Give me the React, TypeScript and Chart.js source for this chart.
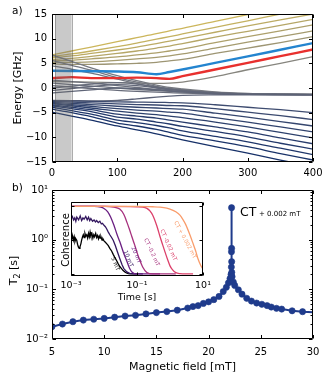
import React, { useEffect, useRef } from "react";
import { Chart, registerables } from "chart.js";

Chart.register(...registerables);

const FONT = "'DejaVu Sans', 'Liberation Sans', sans-serif";
Chart.defaults.font.family = FONT;
Chart.defaults.color = "#000";

// ---------------- Panel a: energy levels vs field ----------------
const fieldA = [0, 30, 60, 100, 130, 160, 180, 200, 250, 300, 350, 400];
const xTicksA = [0, 100, 200, 300, 400];
const yTicksA = [-15, -10, -5, 0, 5, 10, 15];
const shadedField = [5, 30];

// lower (navy) manifold, bottom -> top
const levelN10 = [-4.9, -5.7, -6.5, -7.7, -8.5, -9.3, -9.9, -10.5, -11.9, -13.2, -14.6, -15.9];
const levelN9 = [-4.3, -5.0, -5.8, -7.1, -7.7, -8.4, -9.0, -9.6, -10.7, -11.9, -13.3, -14.6];
const levelN8 = [-3.9, -4.6, -5.3, -6.5, -7.0, -7.6, -8.1, -8.7, -9.8, -10.9, -12.2, -13.5];
const levelN7 = [-3.6, -4.2, -4.8, -5.9, -6.3, -6.9, -7.3, -7.8, -8.8, -9.9, -11.2, -12.4];
const levelN6 = [-3.4, -3.9, -4.4, -5.3, -5.7, -6.1, -6.5, -6.9, -7.9, -8.9, -10.1, -11.3];
const levelN5 = [-3.2, -3.6, -4.05, -4.7, -5.1, -5.4, -5.7, -6.0, -6.9, -7.9, -9.0, -10.1];
const levelN4 = [-3.05, -3.35, -3.7, -4.2, -4.5, -4.7, -4.9, -5.1, -6.0, -6.9, -7.9, -8.9];
const levelN3 = [-2.9, -3.1, -3.35, -3.7, -3.9, -4.05, -4.2, -4.3, -5.1, -5.9, -6.8, -7.7];
const levelN2 = [-2.75, -2.85, -3.0, -3.2, -3.35, -3.45, -3.55, -3.6, -4.2, -4.9, -5.6, -6.4];
const levelN1 = [-2.6, -2.65, -2.7, -2.8, -2.85, -2.9, -2.95, -3.0, -3.4, -3.9, -4.4, -5.0];

// middle (grey) manifold
const levelM10 = [-2.5, -2.55, -2.6, -2.5, -2.2, -1.85, -1.65, -1.5, -1.4, -1.38, -1.38, -1.38];
const levelM9 = [-1.0, -0.7, -0.4, 0.0, -0.1, -0.4, -0.6, -0.8, -1.15, -1.28, -1.33, -1.36];
const levelM8 = [-0.5, -0.1, 0.3, 0.7, 0.5, 0.0, -0.35, -0.6, -1.05, -1.25, -1.31, -1.34];
const levelM7 = [0.0, 0.4, 0.8, 1.1, 0.8, 0.2, -0.2, -0.5, -1.0, -1.22, -1.3, -1.33];
const levelM6 = [0.5, 0.2, -0.1, -0.5, -0.7, -0.85, -0.95, -1.05, -1.2, -1.3, -1.34, -1.35];
const levelM5 = [1.0, 0.7, 0.4, 0.0, -0.3, -0.55, -0.7, -0.85, -1.12, -1.26, -1.32, -1.34];
const levelM4 = [1.6, 1.3, 1.0, 0.5, 0.1, -0.3, -0.5, -0.7, -1.05, -1.23, -1.3, -1.32];
const levelM3 = [4.5, 3.8, 3.0, 1.8, 0.9, 0.1, -0.3, -0.5, -1.0, -1.2, -1.28, -1.31];
const levelM2 = [5.6, 4.6, 3.6, 2.1, 1.2, 0.35, -0.1, -0.35, -0.9, -1.15, -1.25, -1.3];
const levelM1 = [6.7, 5.4, 4.1, 2.5, 1.5, 0.6, 0.1, -0.2, -0.8, -1.1, -1.22, -1.28];

// upper (gold) manifold, bottom -> top
const levelL1 = [1.3, 1.25, 1.2, 1.1, 1.0, 0.95, 1.0, 1.2, 2.3, 3.7, 5.0, 6.35];
const levelRed = [2.0, 2.2, 2.0, 2.0, 2.1, 2.0, 1.85, 2.4, 3.75, 5.1, 6.45, 7.8];
const levelBlue = [3.5, 3.45, 3.4, 3.35, 3.2, 2.8, 3.25, 3.75, 5.1, 6.4, 7.75, 9.1];
const levelL4 = [4.9, 4.8, 4.8, 4.9, 5.0, 5.2, 5.5, 5.8, 7.0, 8.1, 9.2, 10.4];
const levelL5 = [5.2, 5.2, 5.3, 5.6, 5.9, 6.2, 6.5, 6.9, 8.1, 9.3, 10.4, 11.6];
const levelL6 = [5.5, 5.6, 5.9, 6.3, 6.7, 7.1, 7.5, 7.9, 9.2, 10.4, 11.6, 12.8];
const levelL7 = [5.8, 6.0, 6.4, 7.0, 7.5, 8.1, 8.5, 9.0, 10.3, 11.5, 12.7, 13.9];
const levelL8 = [6.1, 6.5, 7.0, 7.7, 8.3, 9.0, 9.5, 10.0, 11.3, 12.6, 13.8, 15.0];
const levelL9 = [6.4, 6.9, 7.5, 8.4, 9.1, 9.9, 10.4, 10.95, 12.3, 13.6, 15.0, 16.3];
const levelL10 = [6.7, 7.5, 8.3, 9.4, 10.2, 11.0, 11.6, 12.1, 13.5, 14.9, 16.2, 17.6];

const levelsA = [
  levelN10, levelN9, levelN8, levelN7, levelN6, levelN5, levelN4, levelN3, levelN2, levelN1,
  levelM10, levelM9, levelM8, levelM7, levelM6, levelM5, levelM4, levelM3, levelM2, levelM1,
  levelL1, levelRed, levelBlue, levelL4, levelL5, levelL6, levelL7, levelL8, levelL9, levelL10,
];
const RED_INDEX = 21;
const BLUE_INDEX = 22;

// ---------------- Panel b: T2 vs magnetic field ----------------
const fieldB = [5, 6, 7, 8, 9, 10, 11, 12, 13, 14, 15, 16, 17, 18, 18.5, 19, 19.5, 20, 20.5, 21, 21.4, 21.7, 21.9, 22.05,
  22.15, 22.18, 22.19, 22.2, 22.205, 22.21, 22.22, 22.25, 22.37, 22.5, 22.85, 23.2, 23.65, 24.1, 24.6, 25.1, 25.6, 26.0,
  26.5, 27.0, 28.0, 29.0, 30.0];
const t2B = [0.0177, 0.02, 0.0223, 0.024, 0.025, 0.026, 0.0275, 0.029, 0.03, 0.032, 0.034, 0.0356, 0.038, 0.042, 0.045,
  0.047, 0.052, 0.056, 0.062, 0.072, 0.09, 0.11, 0.135, 0.165, 0.2, 0.28, 0.57, 4.4, 0.67, 0.36, 0.22, 0.18, 0.14, 0.12,
  0.098, 0.08, 0.066, 0.058, 0.053, 0.05, 0.047, 0.044, 0.0415, 0.04, 0.037, 0.0355, 0.0345];
const xTicksB = [5, 10, 15, 20, 25, 30];
const yTicksB = [0.01, 0.1, 1, 10];
const yMinorB = [0.02, 0.03, 0.04, 0.05, 0.06, 0.07, 0.08, 0.09, 0.2, 0.3, 0.4, 0.5, 0.6, 0.7, 0.8, 0.9, 2, 3, 4, 5, 6, 7, 8, 9];

// ---------------- Inset: coherence vs time ----------------
const insetXTicks = [0.001, 0.1, 10];
const insetYTicks = [0, 0.5, 1];
const coh5mT = [
  [0.001, 0.52], [0.00106, 0.6], [0.00112, 0.56], [0.00118, 0.5], [0.00125, 0.55], [0.00132, 0.48], [0.0014, 0.52],
  [0.00149, 0.5], [0.00158, 0.44], [0.00167, 0.4], [0.00177, 0.38], [0.00187, 0.4], [0.002, 0.45], [0.0021, 0.5],
  [0.00224, 0.55], [0.00236, 0.58], [0.0025, 0.54], [0.00265, 0.6], [0.0028, 0.56], [0.003, 0.58], [0.0032, 0.53],
  [0.0034, 0.6], [0.0036, 0.55], [0.0038, 0.62], [0.004, 0.57], [0.0043, 0.6], [0.0046, 0.53], [0.0049, 0.58],
  [0.0052, 0.55], [0.0056, 0.6], [0.006, 0.54], [0.0064, 0.57], [0.0068, 0.52], [0.0072, 0.56], [0.0076, 0.53],
  [0.0081, 0.55], [0.0087, 0.5], [0.0093, 0.52], [0.01, 0.49], [0.011, 0.47], [0.012, 0.45], [0.0135, 0.42],
  [0.015, 0.38], [0.017, 0.34], [0.019, 0.29], [0.021, 0.25], [0.024, 0.2], [0.027, 0.15], [0.03, 0.11],
  [0.034, 0.08], [0.038, 0.05], [0.043, 0.03], [0.048, 0.015], [0.055, 0.005], [0.061, 0], [0.08, 0], [0.1, 0],
];
const coh10mT = [
  [0.001, 0.82], [0.0011, 0.85], [0.0012, 0.8], [0.0013, 0.83], [0.0014, 0.78], [0.0015, 0.84], [0.0017, 0.8],
  [0.0019, 0.86], [0.0021, 0.79], [0.0023, 0.83], [0.0025, 0.81], [0.0028, 0.85], [0.0031, 0.8], [0.0034, 0.84],
  [0.0037, 0.79], [0.004, 0.82], [0.0045, 0.78], [0.005, 0.8], [0.0055, 0.77], [0.006, 0.79], [0.0067, 0.76],
  [0.0075, 0.78], [0.0083, 0.74], [0.009, 0.75], [0.01, 0.72], [0.011, 0.7], [0.012, 0.67], [0.0135, 0.62],
  [0.015, 0.58], [0.017, 0.54], [0.019, 0.5], [0.022, 0.42], [0.025, 0.34], [0.03, 0.23], [0.035, 0.14],
  [0.04, 0.08], [0.049, 0.03], [0.06, 0.008], [0.08, 0], [0.15, 0],
];
const coh20mT = [
  [0.001, 1], [0.005, 1], [0.008, 0.99], [0.01, 0.97], [0.013, 0.92], [0.016, 0.84], [0.02, 0.72], [0.025, 0.58],
  [0.03, 0.48], [0.04, 0.3], [0.05, 0.18], [0.06, 0.08], [0.07, 0.03], [0.1, 0], [0.2, 0], [0.5, 0],
];
const cohCTm02 = [
  [0.001, 1], [0.01, 1], [0.02, 0.99], [0.03, 0.96], [0.04, 0.88], [0.05, 0.76], [0.06, 0.65], [0.07, 0.55],
  [0.085, 0.43], [0.1, 0.32], [0.12, 0.21], [0.15, 0.1], [0.2, 0.02], [0.3, 0], [0.5, 0], [1.5, 0],
];
const cohCTm002 = [
  [0.001, 1], [0.01, 1], [0.1, 0.995], [0.15, 0.99], [0.2, 0.97], [0.25, 0.93], [0.3, 0.87], [0.4, 0.71],
  [0.5, 0.55], [0.6, 0.43], [0.7, 0.33], [0.85, 0.21], [1, 0.12], [1.2, 0.06], [1.5, 0.02], [2, 0.005], [3, 0], [5, 0],
];
const cohCTp0002 = [
  [0.001, 1], [0.01, 1], [0.1, 1], [0.3, 0.995], [0.5, 0.99], [0.8, 0.975], [1, 0.96], [1.5, 0.92], [2, 0.87],
  [2.5, 0.8], [3, 0.73], [4, 0.58], [5, 0.45], [6, 0.34], [7, 0.23], [8.5, 0.13], [10, 0.07],
];
const insetSeries = [coh5mT, coh10mT, coh20mT, cohCTm02, cohCTm002, cohCTp0002];
const insetLabels = ["5 mT", "10 mT", "20 mT", "CT -0.2 mT", "CT -0.02 mT", "CT + 0.002 mT"];

// ---------------- styles ----------------
const insetColors = ["#000000", "#33175f", "#6a1f82", "#a6307d", "#dc3f6a", "#f99c6b"];
const levelStops: [number, number[]][] = [
  [0, [22, 48, 104]],
  [0.31, [62, 76, 112]],
  [0.345, [92, 98, 118]],
  [0.655, [118, 121, 128]],
  [0.69, [134, 133, 126]],
  [1, [204, 182, 92]],
];
function paletteColor(t: number) {
  for (let i = 1; i < levelStops.length; i++) {
    const [t1, c1] = levelStops[i];
    const [t0, c0] = levelStops[i - 1];
    if (t <= t1) {
      const f = (t - t0) / (t1 - t0);
      const c = c0.map((v, k) => Math.round(v + (c1[k] - v) * f));
      return `rgb(${c[0]},${c[1]},${c[2]})`;
    }
  }
  return "rgb(204,182,92)";
}

type XY = { x: number; y: number };
const zipXY = (xs: number[], ys: number[]): XY[] => xs.map((x, i) => ({ x, y: ys[i] }));
const fromPairs = (arr: number[][]): XY[] => arr.map(([x, y]) => ({ x, y }));
const supDigits: Record<string, string> = { "-": "\u207B", "0": "\u2070", "1": "\u00B9", "2": "\u00B2", "3": "\u00B3" };
const pow10Label = (v: number) => "10" + String(Math.round(Math.log10(v))).split("").map((ch) => supDigits[ch] || ch).join("");
const minusLabel = (v: number) => (v < 0 ? "\u2212" + Math.abs(v) : String(v));

function framePlugin(id: string, o: { xMajor: number[]; yMajor: number[]; yMinor?: number[]; major: number; minor: number; white?: boolean }) {
  return {
    id,
    beforeDatasetsDraw(chart: any) {
      if (!o.white) return;
      const a = chart.chartArea;
      const ctx = chart.ctx;
      ctx.save();
      ctx.fillStyle = "#fff";
      ctx.fillRect(a.left, a.top, a.right - a.left, a.bottom - a.top);
      ctx.restore();
    },
    afterDatasetsDraw(chart: any) {
      const { ctx, chartArea: a } = chart;
      const xs = chart.scales.x;
      const ys = chart.scales.y;
      const l = Math.round(a.left) + 0.5;
      const r = Math.round(a.right) - 0.5;
      const t = Math.round(a.top) + 0.5;
      const b = Math.round(a.bottom) - 0.5;
      ctx.save();
      ctx.strokeStyle = "#000";
      ctx.lineWidth = 1;
      ctx.beginPath();
      ctx.rect(l, t, r - l, b - t);
      for (const v of o.xMajor) {
        const p = Math.round(xs.getPixelForValue(v)) + 0.5;
        ctx.moveTo(p, b); ctx.lineTo(p, b - o.major);
        ctx.moveTo(p, t); ctx.lineTo(p, t + o.major);
      }
      for (const v of o.yMajor) {
        const p = Math.round(ys.getPixelForValue(v)) + 0.5;
        ctx.moveTo(l, p); ctx.lineTo(l + o.major, p);
        ctx.moveTo(r, p); ctx.lineTo(r - o.major, p);
      }
      for (const v of o.yMinor || []) {
        const p = Math.round(ys.getPixelForValue(v)) + 0.5;
        ctx.moveTo(l, p); ctx.lineTo(l + o.minor, p);
        ctx.moveTo(r, p); ctx.lineTo(r - o.minor, p);
      }
      ctx.stroke();
      ctx.restore();
    },
  };
}

function textPlugin(id: string, draw: (ctx: CanvasRenderingContext2D, chart: any) => void) {
  return {
    id,
    afterDraw(chart: any) {
      const ctx = chart.ctx as CanvasRenderingContext2D;
      ctx.save();
      ctx.fillStyle = "#000";
      draw(ctx, chart);
      ctx.restore();
    },
  };
}

const noGrid = { display: false, drawTicks: false };
const noBorder = { display: false };
const baseOptions = {
  animation: false as const,
  responsive: false,
  devicePixelRatio: 1,
  events: [] as any[],
  plugins: { legend: { display: false }, tooltip: { enabled: false } },
};

function makePanelA(): any {
  const datasets = levelsA.map((ys, i) => {
    const isRed = i === RED_INDEX;
    const isBlue = i === BLUE_INDEX;
    return {
      data: zipXY(fieldA, ys),
      showLine: true,
      borderColor: isRed ? "#e8302e" : isBlue ? "#2384cf" : paletteColor(i / 29),
      borderWidth: isRed || isBlue ? 2.4 : 1.3,
      pointRadius: 0,
      cubicInterpolationMode: "monotone",
      order: isRed || isBlue ? 0 : 1,
    };
  });
  const shade = {
    id: "shade",
    afterDatasetsDraw(chart: any) {
      const { ctx, chartArea: a } = chart;
      const xs = chart.scales.x;
      const x0 = xs.getPixelForValue(shadedField[0]);
      const x1 = xs.getPixelForValue(shadedField[1]);
      ctx.save();
      ctx.fillStyle = "rgba(105,105,105,0.36)";
      ctx.fillRect(x0, a.top, x1 - x0, a.bottom - a.top);
      ctx.strokeStyle = "rgba(70,70,70,0.45)";
      ctx.lineWidth = 1;
      ctx.beginPath();
      ctx.moveTo(Math.round(x0) + 0.5, a.top); ctx.lineTo(Math.round(x0) + 0.5, a.bottom);
      ctx.moveTo(Math.round(x1) + 0.5, a.top); ctx.lineTo(Math.round(x1) + 0.5, a.bottom);
      ctx.stroke();
      ctx.restore();
    },
  };
  return {
    type: "scatter",
    data: { datasets },
    options: {
      ...baseOptions,
      layout: { padding: { left: 0, right: 17, top: 14, bottom: 0 } },
      scales: {
        x: {
          type: "linear", min: 0, max: 400, grid: noGrid, border: noBorder,
          ticks: { font: { size: 10, family: FONT }, color: "#000", padding: 5, maxRotation: 0, autoSkip: false, callback: (v: number) => String(v) },
          afterBuildTicks: (s: any) => { s.ticks = xTicksA.map((v) => ({ value: v })); },
          afterFit: (s: any) => { s.height = 20; },
        },
        y: {
          type: "linear", min: -15, max: 15, grid: noGrid, border: noBorder,
          ticks: { font: { size: 10, family: FONT }, color: "#000", padding: 5, autoSkip: false, callback: (v: number) => minusLabel(v) },
          afterBuildTicks: (s: any) => { s.ticks = yTicksA.map((v) => ({ value: v })); },
          afterFit: (s: any) => { s.width = 52; },
        },
      },
    },
    plugins: [
      shade,
      framePlugin("frameA", { xMajor: xTicksA, yMajor: yTicksA, major: 3.5, minor: 2 }),
      textPlugin("textA", (ctx) => {
        ctx.font = `10.5px ${FONT}`;
        ctx.textAlign = "left";
        ctx.textBaseline = "alphabetic";
        ctx.fillText("a)", 12, 14);
        ctx.font = `11px ${FONT}`;
        ctx.textAlign = "center";
        ctx.translate(21, 88);
        ctx.rotate(-Math.PI / 2);
        ctx.fillText("Energy [GHz]", 0, 0);
      }),
    ],
  };
}

function makePanelB(): any {
  const radii = fieldB.map((x) => (x >= 30 ? 0 : 3.1));
  return {
    type: "scatter",
    data: {
      datasets: [
        {
          data: zipXY(fieldB, t2B),
          showLine: true,
          borderColor: "#1f3b8c",
          backgroundColor: "#1f3b8c",
          borderWidth: 2,
          pointRadius: radii,
          pointBorderWidth: 0.6,
          pointBorderColor: "#1f3b8c",
        },
      ],
    },
    options: {
      ...baseOptions,
      layout: { padding: { left: 0, right: 17, top: 10, bottom: 0 } },
      scales: {
        x: {
          type: "linear", min: 5, max: 30, grid: noGrid, border: noBorder,
          ticks: { font: { size: 10, family: FONT }, color: "#000", padding: 7, maxRotation: 0, autoSkip: false, callback: (v: number) => String(v) },
          afterBuildTicks: (s: any) => { s.ticks = xTicksB.map((v) => ({ value: v })); },
          afterFit: (s: any) => { s.height = 41; },
        },
        y: {
          type: "logarithmic", min: 0.01, max: 10, grid: noGrid, border: noBorder,
          ticks: { font: { size: 10, family: FONT }, color: "#000", padding: 4, autoSkip: false, callback: (v: number) => pow10Label(v) },
          afterBuildTicks: (s: any) => { s.ticks = yTicksB.map((v) => ({ value: v })); },
          afterFit: (s: any) => { s.width = 52; },
        },
      },
    },
    plugins: [
      framePlugin("frameB", { xMajor: xTicksB, yMajor: yTicksB, yMinor: yMinorB, major: 3.5, minor: 2 }),
      textPlugin("textB", (ctx) => {
        ctx.textBaseline = "alphabetic";
        ctx.textAlign = "left";
        ctx.font = `10.5px ${FONT}`;
        ctx.fillText("b)", 12, 11);
        ctx.font = `12.5px ${FONT}`;
        ctx.fillText("CT", 240, 35.7);
        ctx.font = `7px ${FONT}`;
        ctx.fillText("+ 0.002 mT", 259, 35.5);
        ctx.font = `11px ${FONT}`;
        ctx.textAlign = "center";
        ctx.fillText("Magnetic field [mT]", 182.5, 190);
        // rotated y title with subscript
        ctx.save();
        ctx.translate(17, 90.5);
        ctx.rotate(-Math.PI / 2);
        ctx.textAlign = "left";
        ctx.font = `11px ${FONT}`;
        const wT = ctx.measureText("T").width;
        const wRest = ctx.measureText(" [s]").width;
        ctx.font = `8px ${FONT}`;
        const w2 = ctx.measureText("2").width;
        const total = wT + w2 + wRest;
        let x = -total / 2;
        ctx.font = `11px ${FONT}`;
        ctx.fillText("T", x, 0);
        x += wT;
        ctx.font = `8px ${FONT}`;
        ctx.fillText("2", x, 2.5);
        x += w2;
        ctx.font = `11px ${FONT}`;
        ctx.fillText(" [s]", x, 0);
        ctx.restore();
      }),
    ],
  };
}

function makeInset(): any {
  const datasets = insetSeries.map((s, i) => ({
    data: fromPairs(s),
    showLine: true,
    borderColor: insetColors[i],
    borderWidth: 1.3,
    pointRadius: 0,
    cubicInterpolationMode: i >= 2 ? "monotone" : "default",
    tension: 0,
    order: 10 - i,
  }));
  const labelPos = [
    [60.3, 69, 68], [73.3, 63.7, 68], [81, 60, 67], [96.7, 57.3, 65], [113.3, 50, 66], [130, 45, 62],
  ];
  return {
    type: "scatter",
    data: { datasets },
    options: {
      ...baseOptions,
      layout: { padding: { left: 0, right: 17, top: 7, bottom: 0 } },
      scales: {
        x: {
          type: "logarithmic", min: 0.001, max: 10, grid: noGrid, border: noBorder,
          ticks: { font: { size: 9.5, family: FONT }, color: "#000", padding: 4, maxRotation: 0, autoSkip: false, callback: (v: number) => pow10Label(v) },
          afterBuildTicks: (s: any) => { s.ticks = insetXTicks.map((v) => ({ value: v })); },
          afterFit: (s: any) => { s.height = 34; },
        },
        y: {
          type: "linear", min: -0.03, max: 1.065, grid: noGrid, border: noBorder,
          ticks: { display: false },
          afterBuildTicks: (s: any) => { s.ticks = insetYTicks.map((v) => ({ value: v })); },
          afterFit: (s: any) => { s.width = 16; },
        },
      },
    },
    plugins: [
      framePlugin("frameI", { xMajor: insetXTicks, yMajor: insetYTicks, major: 3, minor: 2, white: true }),
      textPlugin("textI", (ctx) => {
        ctx.textBaseline = "alphabetic";
        ctx.textAlign = "center";
        ctx.font = `9.5px ${FONT}`;
        ctx.fillText("Time [s]", 82, 105);
        ctx.save();
        ctx.translate(13.5, 45);
        ctx.rotate(-Math.PI / 2);
        ctx.font = `10px ${FONT}`;
        ctx.fillText("Coherence", 0, 0);
        ctx.restore();
        ctx.font = `5.5px ${FONT}`;
        ctx.textBaseline = "middle";
        insetLabels.forEach((txt, i) => {
          const [x, y, ang] = labelPos[i];
          ctx.save();
          ctx.translate(x, y);
          ctx.rotate((ang * Math.PI) / 180);
          ctx.fillStyle = insetColors[i];
          ctx.fillText(txt, 0, 0);
          ctx.restore();
        });
      }),
    ],
  };
}

function ChartCanvas({ left, top, width, height, make }: { left: number; top: number; width: number; height: number; make: () => any }) {
  const ref = useRef<HTMLCanvasElement>(null);
  useEffect(() => {
    const chart = new Chart(ref.current as HTMLCanvasElement, make());
    return () => chart.destroy();
  }, []);
  return (
    <canvas
      ref={ref}
      width={width}
      height={height}
      style={{ position: "absolute", left, top, width, height, display: "block" }}
    />
  );
}

export default function App() {
  return (
    <div style={{ position: "absolute", left: 0, top: 0, width: 330, height: 380, background: "#fff", overflow: "hidden" }}>
      <ChartCanvas left={0} top={0} width={330} height={182} make={makePanelA} />
      <ChartCanvas left={0} top={180} width={330} height={200} make={makePanelB} />
      <ChartCanvas left={55} top={195} width={165} height={115} make={makeInset} />
    </div>
  );
}
